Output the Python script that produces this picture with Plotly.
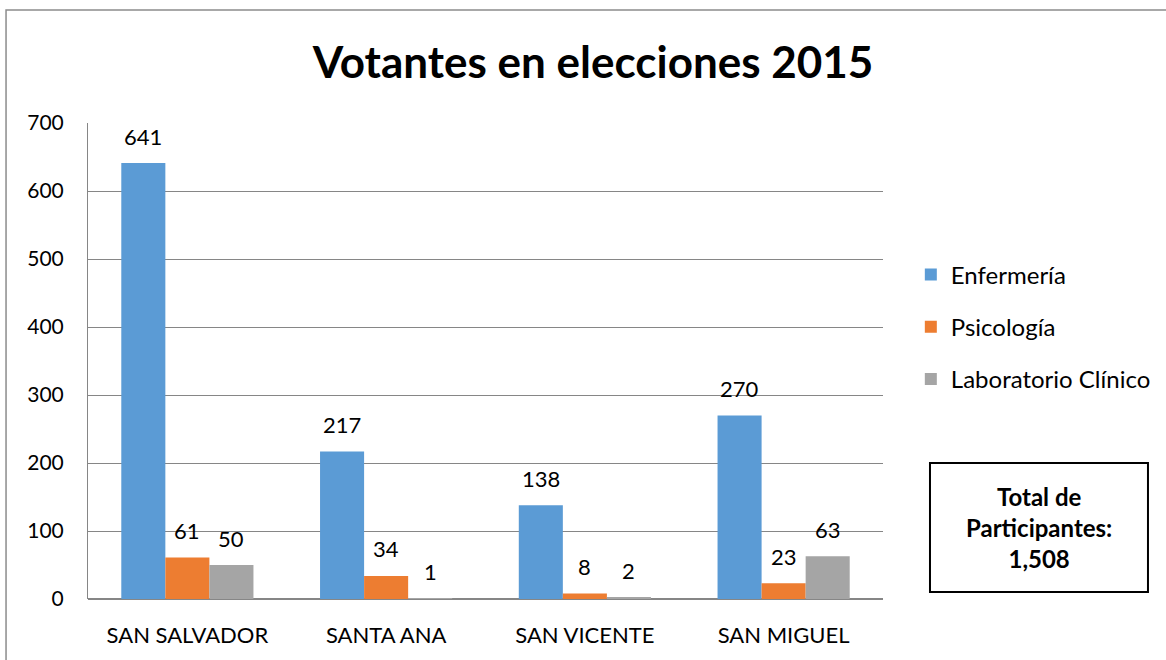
import plotly.graph_objects as go

categories = ["SAN SALVADOR", "SANTA ANA", "SAN VICENTE", "SAN MIGUEL"]
enfermeria = [641, 217, 138, 270]
psicologia = [61, 34, 8, 23]
laboratorio = [50, 1, 2, 63]
series_names = ["Enfermería", "Psicología", "Laboratorio Clínico"]
colors = ["#5B9BD5", "#ED7D31", "#A5A5A5"]
y_ticks = [0, 100, 200, 300, 400, 500, 600, 700]
total_text = "Total de<br>Participantes:<br>1,508"

FONT = "Lato, Open Sans, sans-serif"
W, H = 1166, 660
ML, MR, MT, MB = 88, 283, 123, 61
BARGAP = 0.335

fig = go.Figure()
series = [enfermeria, psicologia, laboratorio]
for i, (name, vals) in enumerate(zip(series_names, series)):
    fig.add_trace(go.Bar(
        x=categories, y=vals, name=name,
        marker=dict(color=colors[i], line=dict(width=0)),
        cliponaxis=False, legendgroup=name,
    ))

# data labels as annotations, lifted above bars
plot_w = W - ML - MR
cat_w = plot_w / len(categories)
bar_w = cat_w * (1 - BARGAP) / len(series)
annotations = []
for i, vals in enumerate(series):
    for c, v in zip(categories, vals):
        annotations.append(dict(
            x=c, y=v, xref="x", yref="y", text=str(v), showarrow=False,
            xshift=(i - 1) * bar_w, yshift=27, yanchor="middle",
            font=dict(size=22, family=FONT, color="#000000")))

annotations.append(dict(
    text="<b>" + total_text + "</b>", xref="paper", yref="paper",
    x=(1.0591 + 1.3333) / 2, y=(0.0147 + 0.2857) / 2, showarrow=False,
    xanchor="center", yanchor="middle", align="center",
    font=dict(size=24, family=FONT, color="#000000")))

fig.update_layout(
    width=W, height=H,
    margin=dict(l=ML, r=MR, t=MT, b=MB, autoexpand=False),
    paper_bgcolor="white", plot_bgcolor="white",
    barmode="group", bargap=BARGAP, bargroupgap=0,
    title=dict(text="<b>Votantes en elecciones 2015</b>", x=0.5086, xanchor="center",
               y=0.9045, yanchor="middle",
               font=dict(size=44, family=FONT, color="#000000")),
    font=dict(family=FONT, color="#000000"),
    xaxis=dict(showgrid=False, ticks="", tickfont=dict(size=22),
               showline=False, ticklabelstandoff=21),
    yaxis=dict(range=[0, 700], tickvals=y_ticks, showgrid=True, gridcolor="#868686",
               gridwidth=1, tickfont=dict(size=21), ticks="", showline=True,
               linecolor="#868686", zeroline=True, zerolinecolor="#868686",
               ticklabelstandoff=19),
    legend=dict(x=1.035, y=0.728, xanchor="left", yanchor="top",
                font=dict(size=24, family=FONT), tracegroupgap=18,
                itemwidth=30, bgcolor="rgba(0,0,0,0)"),
    showlegend=True,
    shapes=[
        dict(type="rect", xref="paper", yref="paper", x0=-0.1031, x1=1.5, y0=-0.3, y1=1.2374,
             line=dict(color="#8C8C8C", width=1.5), fillcolor="rgba(0,0,0,0)", layer="below"),
        dict(type="rect", xref="paper", yref="paper", x0=1.0591, x1=1.3333, y0=0.0147, y1=0.2857,
             line=dict(color="#000000", width=2), fillcolor="white"),
    ],
    annotations=annotations,
)

fig.write_html("out.html", config={"displayModeBar": False},
               post_script="document.body.style.margin='0';")
